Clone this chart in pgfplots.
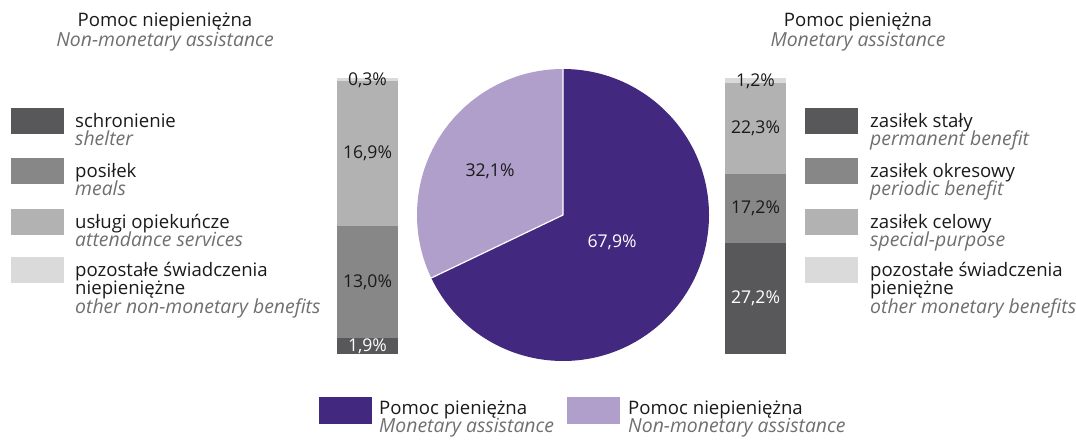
\documentclass[border=0pt]{standalone}
\usepackage{pgfplots}
\pgfplotsset{compat=1.18}
\usepackage{fontspec}
\setmainfont{Open Sans}
\definecolor{monet}{HTML}{43287F}
\definecolor{nonmonet}{HTML}{B09FCA}
\definecolor{g1}{HTML}{58585A}
\definecolor{g2}{HTML}{878787}
\definecolor{g3}{HTML}{B2B2B2}
\definecolor{g4}{HTML}{DADADA}
\definecolor{txt}{HTML}{1A1A1A}
\definecolor{sub}{HTML}{6F6F6F}
\newcommand\fs{\fontsize{18.6}{20}\selectfont}
\newcommand\fit{\fontsize{19.4}{20}\selectfont\itshape}
\newcommand\fl{\fontsize{17.6}{20}\selectfont}
\begin{document}
\begin{tikzpicture}[font=\fs, every node/.style={inner sep=0pt, text=txt}]
\path[use as bounding box] (0pt,0pt) rectangle (1076pt,440pt);
% titles
\node[anchor=base] at (165pt,413.3pt) {Pomoc niepieniężna};
\node[anchor=base, text=sub, font=\fit] at (165pt,393pt) {Non-monetary assistance};
\node[anchor=base] at (858pt,413.3pt) {Pomoc pieniężna};
\node[anchor=base, text=sub, font=\fit] at (858pt,393pt) {Monetary assistance};
% left legend
\fill[g1] (11pt,331.7pt) rectangle (64pt,305.7pt);
\fill[g2] (11pt,282pt) rectangle (64pt,256pt);
\fill[g3] (11pt,231pt) rectangle (64pt,205pt);
\fill[g4] (11pt,182.7pt) rectangle (64pt,156.7pt);
\node[anchor=base west] at (75pt,312.7pt) {schronienie};
\node[anchor=base west, text=sub, font=\fit] at (75pt,294.2pt) {shelter};
\node[anchor=base west] at (75pt,263pt) {posiłek};
\node[anchor=base west, text=sub, font=\fit] at (75pt,244.5pt) {meals};
\node[anchor=base west] at (75pt,212pt) {usługi opiekuńcze};
\node[anchor=base west, text=sub, font=\fit] at (75pt,193.5pt) {attendance services};
\node[anchor=base west] at (75pt,163.7pt) {pozostałe świadczenia};
\node[anchor=base west] at (75pt,145.2pt) {niepieniężne};
\node[anchor=base west, text=sub, font=\fit] at (75pt,126.7pt) {other non-monetary benefits};
% right legend
\fill[g1] (805pt,331.7pt) rectangle (858pt,305.7pt);
\fill[g2] (805pt,282pt) rectangle (858pt,256pt);
\fill[g3] (805pt,231pt) rectangle (858pt,205pt);
\fill[g4] (805pt,182.7pt) rectangle (858pt,156.7pt);
\node[anchor=base west] at (870pt,312.7pt) {zasiłek stały};
\node[anchor=base west, text=sub, font=\fit] at (870pt,294.2pt) {permanent benefit};
\node[anchor=base west] at (870pt,263pt) {zasiłek okresowy};
\node[anchor=base west, text=sub, font=\fit] at (870pt,244.5pt) {periodic benefit};
\node[anchor=base west] at (870pt,212pt) {zasiłek celowy};
\node[anchor=base west, text=sub, font=\fit] at (870pt,193.5pt) {special-purpose};
\node[anchor=base west] at (870pt,163.7pt) {pozostałe świadczenia};
\node[anchor=base west] at (870pt,145.2pt) {pieniężne};
\node[anchor=base west, text=sub, font=\fit] at (870pt,126.7pt) {other monetary benefits};
% bottom legend
\fill[monet] (319pt,16pt) rectangle (372pt,43pt);
\node[anchor=base west] at (379pt,26pt) {Pomoc pieniężna};
\node[anchor=base west, text=sub, font=\fit] at (379pt,8pt) {Monetary assistance};
\fill[nonmonet] (567pt,16pt) rectangle (620pt,43pt);
\node[anchor=base west] at (628pt,26pt) {Pomoc niepieniężna};
\node[anchor=base west, text=sub, font=\fit] at (628pt,8pt) {Non-monetary assistance};
% left bar
\begin{axis}[at={(337pt,86pt)}, anchor=south west, width=61pt, height=276pt,
  scale only axis, hide axis, xmin=-0.5, xmax=0.5, ymin=0, ymax=32.1,
  ybar stacked, bar width=61pt, clip=false]
\addplot[fill=g1, draw=none] coordinates {(0,1.9)};
\addplot[fill=g2, draw=none] coordinates {(0,13.0)};
\addplot[fill=g3, draw=none] coordinates {(0,16.9)};
\addplot[fill=g4, draw=none] coordinates {(0,0.3)};
\coordinate (la) at (axis cs:0,0.95);
\coordinate (lb) at (axis cs:0,8.4);
\coordinate (lc) at (axis cs:0,23.35);
\coordinate (ld) at (axis cs:0,31.85);
\end{axis}
\node[text=white, font=\fl] at (la) {1,9\%};
\node[font=\fl] at (lb) {13,0\%};
\node[font=\fl] at (lc) {16,9\%};
\node[font=\fl] at (ld) {0,3\%};
% right bar
\begin{axis}[at={(725pt,86pt)}, anchor=south west, width=61pt, height=276pt,
  scale only axis, hide axis, xmin=-0.5, xmax=0.5, ymin=0, ymax=67.9,
  ybar stacked, bar width=61pt, clip=false]
\addplot[fill=g1, draw=none] coordinates {(0,27.2)};
\addplot[fill=g2, draw=none] coordinates {(0,17.2)};
\addplot[fill=g3, draw=none] coordinates {(0,22.3)};
\addplot[fill=g4, draw=none] coordinates {(0,1.2)};
\coordinate (ra) at (axis cs:0,13.6);
\coordinate (rb) at (axis cs:0,35.8);
\coordinate (rc) at (axis cs:0,55.55);
\coordinate (rd) at (axis cs:0,67.0);
\end{axis}
\node[text=white, font=\fl] at (ra) {27,2\%};
\node[font=\fl] at (rb) {17,2\%};
\node[font=\fl] at (rc) {22,3\%};
\node[font=\fl] at (rd) {1,2\%};
% pie
\pgfmathsetmacro\angm{90-3.6*67.9}
\pgfmathsetmacro\angn{90+3.6*32.1}
\begin{axis}[at={(563pt,225pt)}, anchor=center, width=292pt, height=292pt,
  scale only axis, hide axis, xmin=-1, xmax=1, ymin=-1, ymax=1, clip=false]
\fill[monet] (axis cs:0,0) -- (axis cs:0,1) arc[start angle=90, end angle=\angm, radius=146pt] -- cycle;
\fill[nonmonet] (axis cs:0,0) -- (axis cs:0,1) arc[start angle=90, end angle=\angn, radius=146pt] -- cycle;
\draw[white, line width=1.2pt] (axis cs:0,1) -- (axis cs:0,0) -- ({cos(\angn)},{sin(\angn)});
\coordinate (pa) at (axis cs:-0.5,0.3);
\coordinate (pb) at (axis cs:0.336,-0.19);
\end{axis}
\node[font=\fl] at (pa) {32,1\%};
\node[text=white, font=\fl] at (pb) {67,9\%};
\end{tikzpicture}
\end{document}
